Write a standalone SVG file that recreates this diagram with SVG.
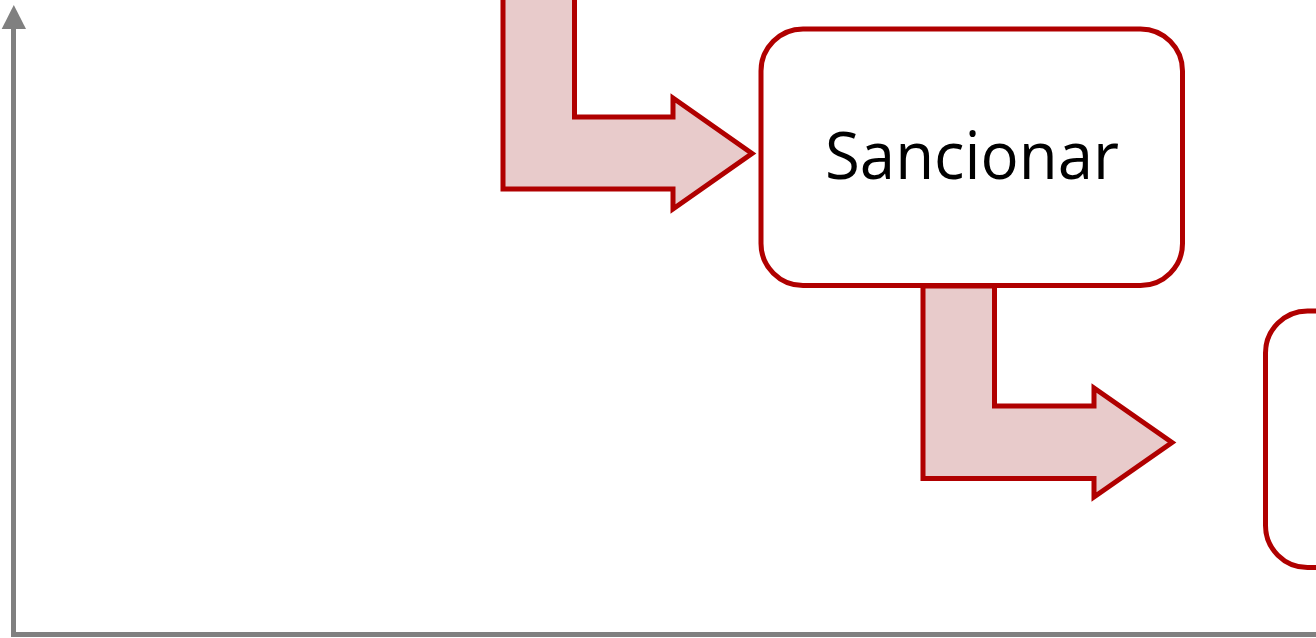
<svg xmlns="http://www.w3.org/2000/svg" width="1316" height="638" viewBox="0 0 1316 638">
  <style>
    .axis { stroke: #808080; stroke-width: 5; fill: none; }
    .axishead { fill: #808080; stroke: none; }
    .flow { fill: #E8CBCB; stroke: #B00000; stroke-width: 5; stroke-linejoin: miter; }
    .node { fill: #FFFFFF; stroke: #B00000; stroke-width: 5; }
    .label { font-family: "Open Sans", "Liberation Sans", sans-serif; font-size: 66px; fill: #000000; }
  </style>
  <rect x="0" y="0" width="1316" height="638" fill="#FFFFFF"/>
  <g id="axes">
    <polyline class="axis" points="13.5,27 13.5,634.5 1320,634.5"/>
    <polygon class="axishead" points="13.8,5 1.7,29 26,29"/>
  </g>
  <g id="connectors">
    <path class="flow" d="M503,-6 V189 H673 V209 L752,153.5 L673,98 V117 H574.5 V-6 Z"/>
    <path class="flow" d="M923,286 V478.5 H1094 V497 L1172,442.5 L1094,388 V406 H994.5 V286 Z"/>
  </g>
  <g id="node-sancionar">
    <rect class="node" x="761" y="29" width="421.5" height="256.5" rx="42" ry="42"/>
    <text class="label" x="972" y="179" text-anchor="middle" textLength="294" lengthAdjust="spacingAndGlyphs">Sancionar</text>
  </g>
  <g id="node-next">
    <rect class="node" x="1265.5" y="311" width="421.5" height="256.5" rx="42" ry="42"/>
  </g>
</svg>
